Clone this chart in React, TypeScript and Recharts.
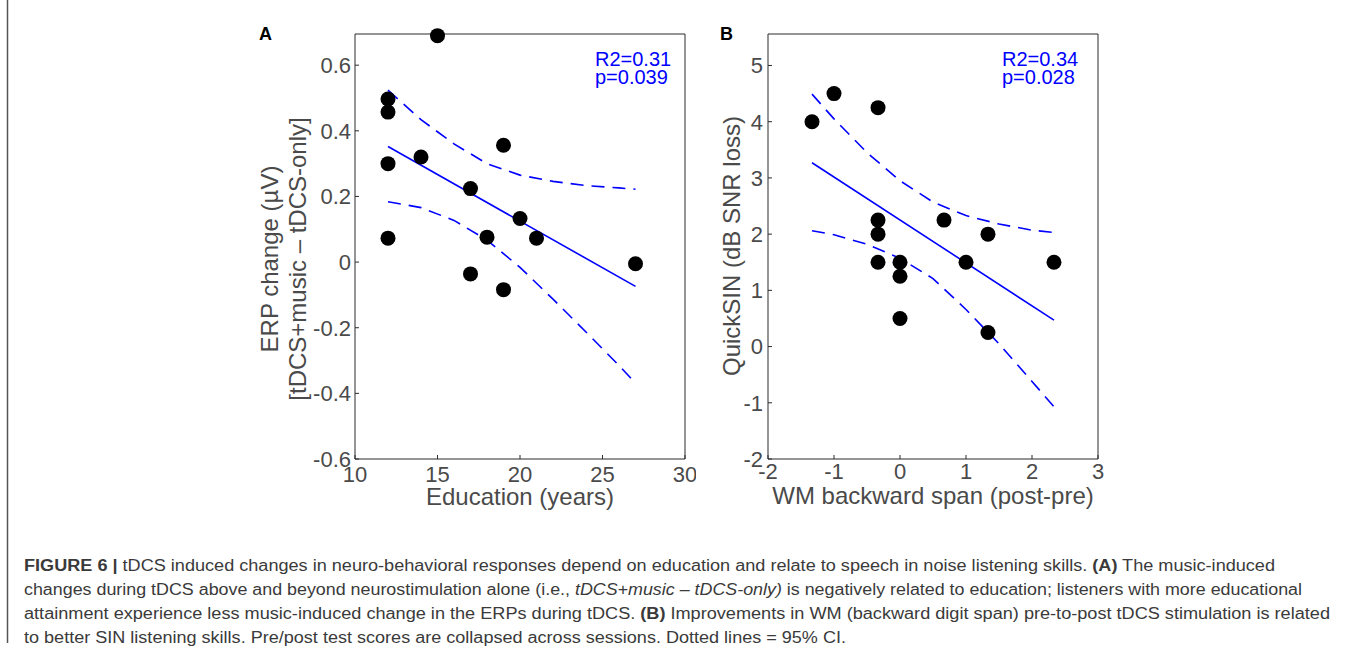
import React from "react";
import { ScatterChart, Scatter, XAxis, YAxis } from "recharts";

// panel A: ERP change vs education
const educationYears = [12, 12, 12, 12, 14, 15, 17, 17, 18, 19, 19, 20, 21, 27];
const erpChange = [0.497, 0.457, 0.3, 0.073, 0.32, 0.69, 0.224, -0.036, 0.076, 0.356, -0.084, 0.133, 0.073, -0.005];
const eduFitX = [12, 27];
const erpFitY = [0.352, -0.074];
const eduCiX = [12, 14, 16, 18, 20, 22, 24, 26, 27];
const erpCiUpper = [0.524, 0.434, 0.36, 0.3, 0.265, 0.246, 0.233, 0.226, 0.222];
const erpCiLower = [0.184, 0.166, 0.127, 0.067, -0.016, -0.113, -0.213, -0.315, -0.369];
const eduTicks = [10, 15, 20, 25, 30];
const erpTicks = [-0.6, -0.4, -0.2, 0, 0.2, 0.4, 0.6];

// panel B: QuickSIN vs WM backward span change
const wmSpanChange = [-1.333, -1, -0.333, -0.333, -0.333, -0.333, 0, 0, 0, 0.667, 1, 1.333, 1.333, 2.333];
const quickSinLoss = [4, 4.5, 4.25, 2.25, 2, 1.5, 1.5, 1.25, 0.5, 2.25, 1.5, 2, 0.25, 1.5];
const wmFitX = [-1.333, 2.333];
const quickSinFitY = [3.27, 0.47];
const wmCiX = [-1.333, -1, -0.5, 0, 0.5, 1, 1.5, 2, 2.333];
const quickSinCiUpper = [4.49, 4.05, 3.45, 2.95, 2.57, 2.33, 2.18, 2.07, 2.03];
const quickSinCiLower = [2.06, 1.99, 1.82, 1.57, 1.21, 0.66, 0.05, -0.62, -1.07];
const wmTicks = [-2, -1, 0, 1, 2, 3];
const quickSinTicks = [-2, -1, 0, 1, 2, 3, 4, 5];

const FONT = "'Liberation Sans', Arial, Helvetica, sans-serif";
const AXIS = "#2b2b2b";
const LABEL = "#4a4a4a";
const BLUE = "#0000ff";

type Pt = { x: number; y: number };
const zip = (xs: number[], ys: number[]): Pt[] => xs.map((x, i) => ({ x, y: ys[i] }));

const Dot = (props: any) => <circle cx={props.cx} cy={props.cy} r={7.5} fill="#000" />;
const NoDot = () => <g />;

interface PanelProps {
  left: number;
  xDomain: [number, number];
  yDomain: [number, number];
  xTicks: number[];
  yTicks: number[];
  dots: Pt[];
  fit: Pt[];
  upper: Pt[];
  lower: Pt[];
  xTickMargin: number;
  yTickMargin: number;
}

const Panel: React.FC<PanelProps> = ({ left, xDomain, yDomain, xTicks, yTicks, dots, fit, upper, lower, xTickMargin, yTickMargin }) => {
  const tickStyle = { fill: LABEL, fontSize: 22, fontFamily: FONT };
  const dashed = { stroke: BLUE, strokeWidth: 1.6, strokeDasharray: "13 8", fill: "none" };
  return (
    <div style={{ position: "absolute", left, top: 0 }}>
      <ScatterChart width={401} height={499} margin={{ top: 33, right: 10, bottom: 0, left: 0 }}>
        <XAxis xAxisId="b" type="number" dataKey="x" domain={xDomain} ticks={xTicks} height={40}
          stroke={AXIS} tickSize={-4} tickMargin={xTickMargin} tick={tickStyle} interval={0} />
        <XAxis xAxisId="t" orientation="top" type="number" dataKey="x" domain={xDomain} ticks={xTicks} height={1}
          stroke={AXIS} tickSize={-4} tick={false} interval={0} />
        <YAxis yAxisId="l" type="number" dataKey="y" domain={yDomain} ticks={yTicks} width={60}
          stroke={AXIS} tickSize={-4} tickMargin={yTickMargin} tick={tickStyle} interval={0} />
        <YAxis yAxisId="r" orientation="right" type="number" dataKey="y" domain={yDomain} ticks={yTicks} width={1}
          stroke={AXIS} tickSize={-4} tick={false} interval={0} />
        {/* invisible copy so the box axes (top/right) get drawn */}
        <Scatter xAxisId="t" yAxisId="r" data={dots} shape={NoDot} isAnimationActive={false} />
        <Scatter xAxisId="b" yAxisId="l" data={upper} line={dashed} shape={NoDot} isAnimationActive={false} />
        <Scatter xAxisId="b" yAxisId="l" data={lower} line={dashed} shape={NoDot} isAnimationActive={false} />
        <Scatter xAxisId="b" yAxisId="l" data={fit} line={{ stroke: BLUE, strokeWidth: 1.6, fill: "none" }} shape={NoDot} isAnimationActive={false} />
        <Scatter xAxisId="b" yAxisId="l" data={dots} shape={Dot} isAnimationActive={false} />
      </ScatterChart>
    </div>
  );
};

const capStyle = { fontFamily: FONT, fontSize: 16, fill: "#3a3a3a" };

export default function App() {
  return (
    <div style={{ position: "absolute", left: 0, top: 0, width: 1355, height: 652, background: "#fff", overflow: "hidden" }}>
      <Panel left={295} xDomain={[10, 30]} yDomain={[-0.6, 0.695]} xTicks={eduTicks} yTicks={erpTicks}
        dots={zip(educationYears, erpChange)} fit={zip(eduFitX, erpFitY)}
        upper={zip(eduCiX, erpCiUpper)} lower={zip(eduCiX, erpCiLower)} xTickMargin={11} yTickMargin={8} />
      <Panel left={708} xDomain={[-2, 3]} yDomain={[-2, 5.56]} xTicks={wmTicks} yTicks={quickSinTicks}
        dots={zip(wmSpanChange, quickSinLoss)} fit={zip(wmFitX, quickSinFitY)}
        upper={zip(wmCiX, quickSinCiUpper)} lower={zip(wmCiX, quickSinCiLower)} xTickMargin={8} yTickMargin={9} />

      <svg width={1355} height={652} style={{ position: "absolute", left: 0, top: 0, pointerEvents: "none" }}>
        <line x1={7.5} y1={0} x2={7.5} y2={643} stroke="#555" strokeWidth={1.5} />

        <text x={259} y={40} fontFamily={FONT} fontSize={18} fontWeight="bold" fill="#000">A</text>
        <text x={720} y={40} fontFamily={FONT} fontSize={18} fontWeight="bold" fill="#000">B</text>

        <text x={595} y={66} fontFamily={FONT} fontSize={20} fill={BLUE}>R2=0.31</text>
        <text x={595} y={84} fontFamily={FONT} fontSize={20} fill={BLUE}>p=0.039</text>
        <text x={1002} y={66} fontFamily={FONT} fontSize={20} fill={BLUE}>R2=0.34</text>
        <text x={1002} y={84} fontFamily={FONT} fontSize={20} fill={BLUE}>p=0.028</text>

        <text transform="translate(278,259) rotate(-90)" textAnchor="middle" fontFamily={FONT} fontSize={24} fill={LABEL}>ERP change (µV)</text>
        <text transform="translate(306,259) rotate(-90)" textAnchor="middle" fontFamily={FONT} fontSize={24} fill={LABEL}>[tDCS+music – tDCS-only]</text>
        <text x={520} y={505} textAnchor="middle" fontFamily={FONT} fontSize={24} fill={LABEL}>Education (years)</text>
        <text transform="translate(740,246) rotate(-90)" textAnchor="middle" fontFamily={FONT} fontSize={24} fill={LABEL}>QuickSIN (dB SNR loss)</text>
        <text x={933} y={504} textAnchor="middle" fontFamily={FONT} fontSize={24} fill={LABEL}>WM backward span (post-pre)</text>

        <text x={24} y={571} textLength={1251} lengthAdjust="spacingAndGlyphs" {...capStyle}>
          <tspan fontWeight="bold">FIGURE 6 | </tspan>tDCS induced changes in neuro-behavioral responses depend on education and relate to speech in noise listening skills. <tspan fontWeight="bold">(A)</tspan> The music-induced
        </text>
        <text x={24} y={595} textLength={1278} lengthAdjust="spacingAndGlyphs" {...capStyle}>
          changes during tDCS above and beyond neurostimulation alone (i.e., <tspan fontStyle="italic">tDCS+music – tDCS-only)</tspan> is negatively related to education; listeners with more educational
        </text>
        <text x={24} y={619} textLength={1306} lengthAdjust="spacingAndGlyphs" {...capStyle}>
          attainment experience less music-induced change in the ERPs during tDCS. <tspan fontWeight="bold">(B)</tspan> Improvements in WM (backward digit span) pre-to-post tDCS stimulation is related
        </text>
        <text x={24} y={643} textLength={822} lengthAdjust="spacingAndGlyphs" {...capStyle}>
          to better SIN listening skills. Pre/post test scores are collapsed across sessions. Dotted lines = 95% CI.
        </text>
      </svg>
    </div>
  );
}
